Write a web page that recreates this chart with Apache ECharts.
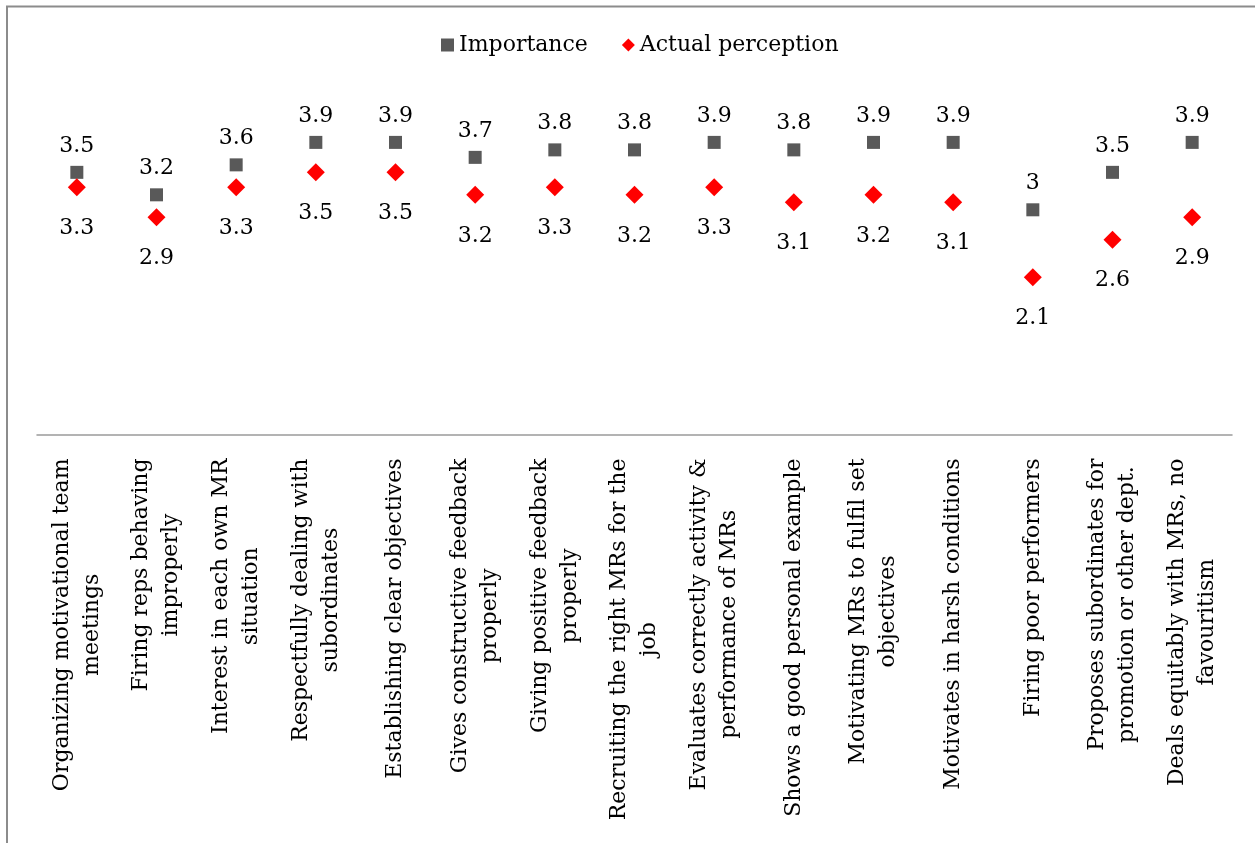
<!DOCTYPE html>
<html>
<head>
<meta charset="utf-8">
<script src="https://cdn.jsdelivr.net/npm/echarts@6/dist/echarts.min.js"></script>
<style>
  html, body { margin: 0; padding: 0; background: #fff; }
  #chart { width: 1255px; height: 843px; }
</style>
</head>
<body>
<div id="chart"></div>
<script>
// Managerial competences: rated importance vs. actual perception
const categories = [
  'Organizing motivational team\nmeetings',
  'Firing reps behaving\nimproperly',
  'Interest in each own MR\nsituation',
  'Respectfully dealing with\nsubordinates',
  'Establishing clear objectives',
  'Gives constructive feedback\nproperly',
  'Giving positive feedback\nproperly',
  'Recruiting the right MRs for the\njob',
  'Evaluates correctly activity &\nperformance of MRs',
  'Shows a good personal example',
  'Motivating MRs to fulfil set\nobjectives',
  'Motivates in harsh conditions',
  'Firing poor performers',
  'Proposes subordinates for\npromotion or other dept.',
  'Deals equitably with MRs, no\nfavouritism'
];
const importance = [3.5, 3.2, 3.6, 3.9, 3.9, 3.7, 3.8, 3.8, 3.9, 3.8, 3.9, 3.9, 3.0, 3.5, 3.9];
const actualPerception = [3.3, 2.9, 3.3, 3.5, 3.5, 3.2, 3.3, 3.2, 3.3, 3.1, 3.2, 3.1, 2.1, 2.6, 2.9];

const FONT = 'DejaVu Serif';
const chart = echarts.init(document.getElementById('chart'), null, { renderer: 'canvas' });

chart.setOption({
  backgroundColor: '#ffffff',
  animation: false,
  graphic: [{
    type: 'rect',
    silent: true,
    shape: { x: 7, y: 6.5, width: 1400, height: 1000 },
    style: { fill: 'none', stroke: '#8c8c8c', lineWidth: 2 }
  }],
  legend: {
    top: 29,
    left: 436,
    itemWidth: 13,
    itemHeight: 13,
    itemGap: 34,
    textStyle: { fontFamily: FONT, fontSize: 22, color: '#000' },
    data: [
      { name: 'Importance', icon: 'rect' },
      { name: 'Actual perception', icon: 'diamond' }
    ]
  },
  grid: { left: 37, right: 23, top: 60, bottom: 408.5, containLabel: false },
  xAxis: {
    type: 'category',
    data: categories,
    boundaryGap: true,
    axisLine: { show: true, lineStyle: { color: '#9a9a9a', width: 1.5 } },
    axisTick: { show: false },
    splitLine: { show: false },
    axisLabel: {
      interval: 0,
      rotate: 90,
      margin: 24,
      formatter: function (v) {
        return v.split('\n').map(function (s) { return '{c|' + s + '}'; }).join('\n');
      },
      rich: {
        c: { align: 'center', fontFamily: FONT, fontSize: 22, lineHeight: 30, color: '#000' }
      }
    }
  },
  yAxis: {
    type: 'value',
    min: 0,
    max: 5,
    show: false,
    splitLine: { show: false }
  },
  series: [
    {
      name: 'Importance',
      type: 'scatter',
      data: importance,
      symbol: 'rect',
      symbolSize: 13,
      itemStyle: { color: '#595959', opacity: 1 },
      label: {
        show: true,
        position: 'top',
        distance: 9,
        fontFamily: FONT,
        fontSize: 22,
        color: '#000',
        formatter: function (p) { return String(p.value); }
      }
    },
    {
      name: 'Actual perception',
      type: 'scatter',
      data: actualPerception,
      symbol: 'diamond',
      symbolSize: 18,
      itemStyle: { color: '#ff0000', opacity: 1 },
      label: {
        show: true,
        position: 'bottom',
        distance: 21,
        fontFamily: FONT,
        fontSize: 22,
        color: '#000',
        formatter: function (p) { return String(p.value); }
      }
    }
  ]
});
</script>
</body>
</html>
